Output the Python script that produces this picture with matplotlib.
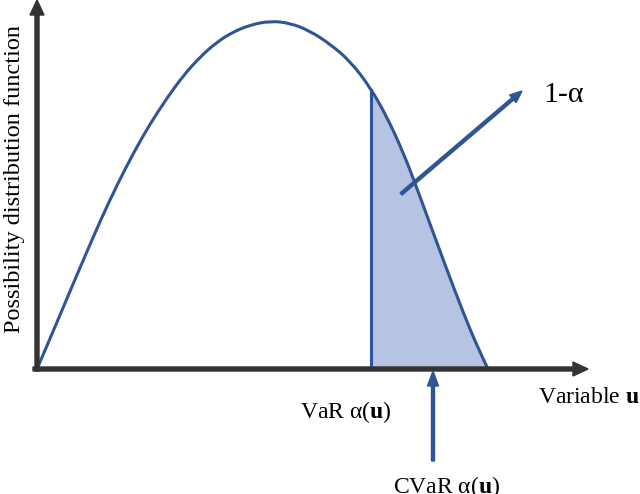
import numpy as np
import matplotlib
matplotlib.use("Agg")
import matplotlib.pyplot as plt
from matplotlib.path import Path
from matplotlib.patches import PathPatch

plt.rcParams['font.family'] = ['Liberation Serif', 'DejaVu Serif']
plt.rcParams['mathtext.fontset'] = 'custom'
plt.rcParams['mathtext.rm'] = 'Liberation Serif'
plt.rcParams['mathtext.bf'] = 'Liberation Serif:bold'
plt.rcParams['mathtext.it'] = 'Liberation Serif:italic'

# Curve (variable u, possibility value)
u_vals = np.array([0, 15, 31, 48, 65, 81, 97, 113, 130, 146, 163, 180, 196, 213, 233,
                   253, 273, 293, 313, 333, 350, 366, 378, 393, 410, 426, 440, 451])
pdf_vals = np.array([0, 35, 73, 113, 152, 186, 217, 245, 271, 293, 312, 327, 337, 344, 348,
                     346, 338, 325, 308, 282, 252, 217, 186, 145, 99, 57, 23, 0])
var_u = 334          # VaR position
cvar_u = 396         # CVaR position
x_axis_end = 551
y_axis_end = 369

line_c = '#2F5597'
fill_c = '#B7C3E3'
axis_c = '#333333'

fig = plt.figure(figsize=(6.4, 4.94), dpi=100)
ax = fig.add_axes([0, 0, 1, 1])
ax.set_xlim(-37, 603)
ax.set_ylim(-125, 369)
ax.axis('off')

# smooth path: read points used as quadratic Bezier control points
pts = np.column_stack([u_vals, pdf_vals]).astype(float)
verts = [pts[0]]
codes = [Path.MOVETO]
n = len(pts)
for i in range(1, n - 1):
    end = pts[i + 1] if i == n - 2 else (pts[i] + pts[i + 1]) / 2
    verts += [pts[i], end]
    codes += [Path.CURVE3, Path.CURVE3]
curve_path = Path(verts, codes)
poly = curve_path.to_polygons(closed_only=False)[0]
cx, cy = poly[:, 0], poly[:, 1]

mask = cx >= var_u
var_h = np.interp(var_u, cx, cy)
fx = np.concatenate([[var_u], cx[mask]])
fy = np.concatenate([[var_h], cy[mask]])
ax.fill_between(fx, 0, fy, color=fill_c, lw=0, zorder=1)
ax.plot([var_u, var_u], [0, var_h], color=line_c, lw=2.2, zorder=2)
ax.add_patch(PathPatch(curve_path, facecolor='none', edgecolor=line_c, lw=2.2, zorder=3))

# axes arrows
ax.arrow(-4, 0, x_axis_end + 4, 0, width=4, head_width=14, head_length=15,
         length_includes_head=True, color=axis_c, zorder=4)
ax.arrow(0, -2, 0, y_axis_end + 2, width=4, head_width=14, head_length=15,
         length_includes_head=True, color=axis_c, zorder=4)

# 1-alpha arrow
ax.arrow(364, 175, 121, 103, width=3, head_width=10, head_length=12,
         length_includes_head=True, color=line_c, zorder=5)
# CVaR arrow
ax.arrow(cvar_u, -92, 0, 90, width=3, head_width=11, head_length=15,
         length_includes_head=True, color=line_c, zorder=5)

ax.text(506, 267, '1-α', fontsize=21.5, ha='left', va='baseline')
ax.text(501, -34, r'Variable $\mathbf{u}$', fontsize=17, ha='left', va='baseline')
ax.text(263, -49, r'VaR α($\mathbf{u}$)', fontsize=17, ha='left', va='baseline')
ax.text(356, -124, r'CVaR α($\mathbf{u}$)', fontsize=17, ha='left', va='baseline')
ax.text(-22, 190, 'Possibility distribution function', fontsize=17.5, rotation=90,
        ha='center', va='center')

fig.savefig('out.png', dpi=100)
